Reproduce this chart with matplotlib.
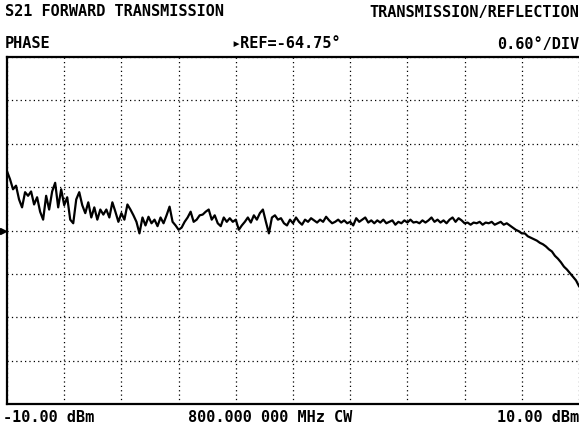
import numpy as np
import matplotlib
matplotlib.use("Agg")
import matplotlib.pyplot as plt
from matplotlib.transforms import blended_transform_factory

# instrument settings
ref_deg = -64.75
deg_per_div = 0.60
n_ydiv = 8
start_dbm = -10.0
stop_dbm = 10.0
n_xdiv = 10

title_left = "S21 FORWARD TRANSMISSION"
title_right = "TRANSMISSION/REFLECTION"
format_label = "PHASE"
ref_label = "\u25b8REF=-64.75\u00b0"
scale_label = "0.60\u00b0/DIV"
start_label = "-10.00 dBm"
cw_label = "800.000 000 MHz CW"
stop_label = "10.00 dBm"

# S21 phase (deg), power swept evenly from start to stop
phase_deg = [
    -63.93, -64.04, -64.18, -64.13, -64.32, -64.43, -64.22, -64.27, -64.21, -64.39,
    -64.29, -64.49, -64.60, -64.27, -64.46, -64.21, -64.09, -64.43, -64.18, -64.40,
    -64.29, -64.60, -64.65, -64.32, -64.22, -64.40, -64.51, -64.36, -64.57, -64.43,
    -64.60, -64.46,
    -64.53, -64.46, -64.57, -64.36, -64.49, -64.63, -64.51, -64.60, -64.39, -64.46,
    -64.54, -64.63, -64.79, -64.57, -64.68, -64.56, -64.65, -64.60, -64.69, -64.57,
    -64.65, -64.54, -64.42, -64.63, -64.68, -64.74, -64.71, -64.63, -64.57, -64.49,
    -64.63, -64.60, -64.54,
    -64.53, -64.49, -64.46, -64.60, -64.54, -64.65, -64.69, -64.57, -64.63, -64.58,
    -64.63, -64.60, -64.74, -64.68, -64.63, -64.57, -64.64, -64.54, -64.60, -64.51,
    -64.46, -64.63, -64.79, -64.57, -64.54, -64.60, -64.58, -64.65, -64.68, -64.60,
    -64.65, -64.57, -64.63,
    -64.67, -64.60, -64.63, -64.58, -64.61, -64.64, -64.60, -64.63, -64.56, -64.61,
    -64.65, -64.63, -64.60, -64.64, -64.61, -64.65, -64.63, -64.68, -64.58, -64.63,
    -64.60, -64.57, -64.64, -64.61, -64.65, -64.61, -64.64, -64.60, -64.65, -64.63,
    -64.61, -64.67, -64.63,
    -64.65, -64.61, -64.64, -64.60, -64.64, -64.63, -64.65, -64.61, -64.64, -64.61,
    -64.57, -64.63, -64.60, -64.64, -64.61, -64.65, -64.60, -64.57, -64.63, -64.58,
    -64.61, -64.65, -64.64, -64.67, -64.64, -64.65, -64.63, -64.67, -64.64, -64.65,
    -64.63, -64.67, -64.65,
    -64.63, -64.67, -64.65, -64.68, -64.71, -64.74, -64.76, -64.79, -64.79, -64.83,
    -64.85, -64.87, -64.89, -64.92, -64.94, -64.97, -65.01, -65.04, -65.10, -65.14,
    -65.19, -65.25, -65.29, -65.34, -65.39, -65.44, -65.52,
]
power_dbm = np.linspace(start_dbm, stop_dbm, len(phase_deg))

font = dict(family="DejaVu Sans Mono", weight="bold", size=11, color="black")

fig = plt.figure(figsize=(5.79, 4.29), dpi=100)
ax = fig.add_axes([7 / 579, 25 / 429, 572 / 579, 347 / 429])

half = n_ydiv / 2 * deg_per_div
ax.set_xlim(start_dbm, stop_dbm)
ax.set_ylim(ref_deg - half, ref_deg + half)
ax.set_xticks(np.linspace(start_dbm, stop_dbm, n_xdiv + 1))
ax.set_yticks(ref_deg + deg_per_div * np.arange(-n_ydiv // 2, n_ydiv // 2 + 1))
ax.tick_params(length=0, labelbottom=False, labelleft=False)
ax.grid(True, color="black", linestyle=(0, (1, 2.5)), linewidth=0.9)

for side in ["left", "top", "bottom"]:
    ax.spines[side].set_linewidth(1.6)
ax.spines["right"].set_visible(False)

ax.plot(power_dbm, phase_deg, color="black", linewidth=1.6)

# reference position arrow on the left edge
trans = blended_transform_factory(fig.transFigure, ax.transData)
ax.plot([3 / 579], [ref_deg], marker=">", markersize=4, color="black",
        transform=trans, clip_on=False)

fig.text(5 / 579, 1 - 12 / 429, title_left, ha="left", va="center", **font)
fig.text(1.0, 1 - 12 / 429, title_right, ha="right", va="center", **font)
fig.text(5 / 579, 1 - 44 / 429, format_label, ha="left", va="center", **font)
fig.text(286 / 579, 1 - 44 / 429, ref_label, ha="center", va="center", **font)
fig.text(1.0, 1 - 44 / 429, scale_label, ha="right", va="center", **font)
fig.text(3 / 579, 1 - 418 / 429, start_label, ha="left", va="center", **font)
fig.text(270 / 579, 1 - 418 / 429, cw_label, ha="center", va="center", **font)
fig.text(1.0, 1 - 418 / 429, stop_label, ha="right", va="center", **font)

fig.savefig("out.png", dpi=100)
